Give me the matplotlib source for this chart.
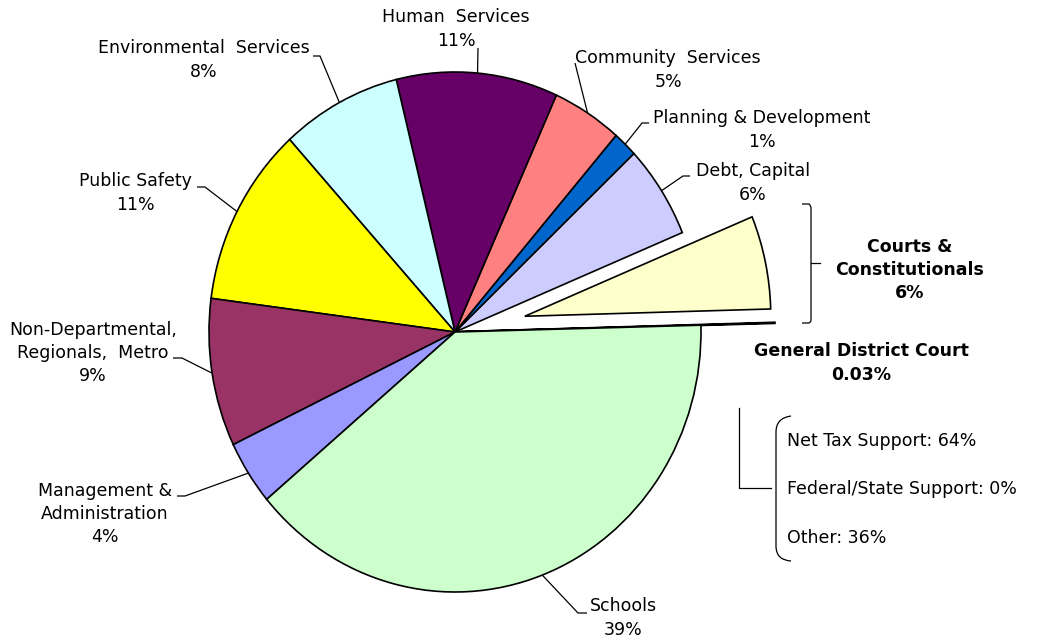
import matplotlib
matplotlib.use("Agg")
import matplotlib.pyplot as plt
import numpy as np
from matplotlib.path import Path
from matplotlib.patches import PathPatch

# ---------------- data ----------------
categories = ["General District Court", "Courts & Constitutionals", "Debt, Capital",
              "Planning & Development", "Community Services", "Human Services",
              "Environmental Services", "Public Safety",
              "Non-Departmental, Regionals, Metro", "Management & Administration", "Schools"]
values = [0.03, 5.8, 5.8, 1.6, 4.6, 10.6, 7.9, 11.2, 9.2, 4.0, 39.3]
pct_labels = ["0.03%", "6%", "6%", "1%", "5%", "11%", "8%", "11%", "9%", "4%", "39%"]
display_names = ["General District Court", "Courts &\nConstitutionals", "Debt, Capital",
                 "Planning & Development", "Community  Services", "Human  Services",
                 "Environmental  Services", "Public Safety",
                 "Non-Departmental,\nRegionals,  Metro", "Management &\nAdministration", "Schools"]
colors = ["#FFFFCC", "#FFFFCC", "#CCCCFF", "#0066CC", "#FF8080", "#660066",
          "#CCFFFF", "#FFFF00", "#993366", "#9999FF", "#CCFFCC"]
explode = [0, 0.29, 0, 0, 0, 0, 0, 0, 0, 0, 0]

support_labels = ["Net Tax Support", "Federal/State Support", "Other"]
support_values = [64, 0, 36]

# ---------------- layout helpers ----------------
W, H = 1049, 641
CX, CY = 455, 332
RX, RY = 246, 260


def P(px, py):
    return ((px - CX) / RX, (CY - py) / RY)


fig = plt.figure(figsize=(W / 100, H / 100), dpi=100)
ax = fig.add_axes([0, 0, 1, 1])

wedges, _ = ax.pie(values, colors=colors, explode=explode, startangle=1.5,
                   counterclock=True,
                   wedgeprops=dict(edgecolor="black", linewidth=1.2))
# the tiny pulled-out slice is drawn as a long line from the centre
wedges[0].set_radius(1.30)
wedges[0].set_linewidth(1.6)
wedges[0].set_zorder(0.5)
ax.set_aspect("auto")
ax.set_xlim(P(0, 0)[0], P(W, 0)[0])
ax.set_ylim(P(0, H)[1], P(0, 0)[1])
ax.axis("off")

FS = 12.5
LS = 1.38
LC = "black"
LW = 0.9

# label layout: index -> (text center px, elbow points px list)
label_layout = {
    5: ((456, 29), [(478, 48)]),
    4: ((668, 70), [(575, 63)]),
    3: ((762, 130), [(642, 123), (649, 123)]),
    2: ((753, 183), [(683, 176), (690, 176)]),
    6: ((204, 60), [(320, 56), (313, 56)]),
    7: ((135, 193), [(205, 187), (197, 187)]),
    8: ((93, 353), [(182, 358), (173, 358)]),
    9: ((105, 514), [(185, 496), (177, 496)]),
    10: ((623, 618), [(578, 613), (587, 613)]),
}

for i, ((tx, ty), elbow) in label_layout.items():
    w = wedges[i]
    mid = np.deg2rad((w.theta1 + w.theta2) / 2)
    ax0, ay0 = w.center[0] + w.r * np.cos(mid), w.center[1] + w.r * np.sin(mid)
    xs = [ax0] + [P(*e)[0] for e in elbow]
    ys = [ay0] + [P(*e)[1] for e in elbow]
    ax.plot(xs, ys, color=LC, lw=LW, solid_capstyle="butt")
    ax.text(*P(tx, ty), display_names[i] + "\n" + pct_labels[i], ha="center", va="center",
            multialignment="center", fontsize=FS, linespacing=LS, color="black")

# Courts & Constitutionals (bold) with bracket
ax.text(*P(910, 270), display_names[1] + "\n" + pct_labels[1], ha="center", va="center",
        multialignment="center", fontsize=FS, fontweight="bold", linespacing=LS)
verts = [P(802, 204), P(809, 204), P(811, 206), P(811, 208), P(811, 320),
         P(811, 322), P(809, 323), P(802, 323)]
codes = [Path.MOVETO, Path.LINETO, Path.CURVE3, Path.CURVE3, Path.LINETO,
         Path.CURVE3, Path.CURVE3, Path.LINETO]
ax.add_patch(PathPatch(Path(verts, codes), fill=False, lw=LW, ec=LC))
ax.plot(*zip(P(811, 263), P(820, 263)), color=LC, lw=LW)

# General District Court (bold)
ax.text(*P(861, 363), display_names[0] + "\n" + pct_labels[0], ha="center", va="center",
        multialignment="center", fontsize=FS, fontweight="bold", linespacing=LS)

# funding bracket
ax.plot(*zip(P(739, 408), P(739, 488), P(771, 488)), color=LC, lw=LW)
verts = [P(791, 416), P(776, 418), P(776, 432), P(776, 546),
         P(776, 560), P(791, 561)]
codes = [Path.MOVETO, Path.CURVE3, Path.CURVE3, Path.LINETO,
         Path.CURVE3, Path.CURVE3]
ax.add_patch(PathPatch(Path(verts, codes), fill=False, lw=LW, ec=LC))
for k, (lab, v) in enumerate(zip(support_labels, support_values)):
    ax.text(*P(787, 441 + 48.5 * k), f"{lab}: {v}%", ha="left", va="center", fontsize=FS)

fig.savefig("out.png", dpi=100)
